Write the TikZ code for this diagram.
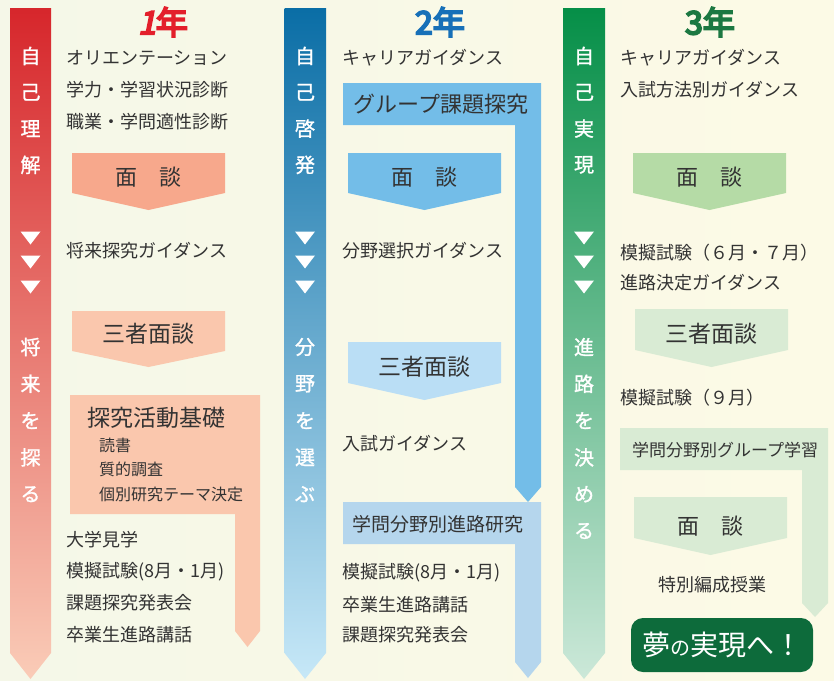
\documentclass[tikz,border=0pt]{standalone}
\usepackage{fontspec}
\setmainfont{Noto Sans CJK JP}
\newfontfamily\yearfont{Noto Sans CJK JP}[FakeBold=6]
\newfontfamily\yearslant{Noto Sans CJK JP}[FakeBold=6, FakeSlant=0.2]
\newfontfamily\vertfont{Noto Sans CJK JP}[FakeBold=1.2]
\usepackage{tikz}
\usetikzlibrary{positioning}
\definecolor{bgleft}{rgb}{0.96,0.97,0.91}
\definecolor{bgright}{rgb}{0.99,0.98,0.90}
\definecolor{textgray}{rgb}{0.2,0.2,0.2}
\definecolor{redtop}{rgb}{0.84,0.15,0.17}
\definecolor{redmid}{rgb}{0.89,0.47,0.35}
\definecolor{redbot}{rgb}{0.98,0.80,0.72}
\definecolor{redbox}{rgb}{0.97,0.66,0.55}
\definecolor{redpale}{rgb}{0.98,0.78,0.68}
\definecolor{bluetop}{rgb}{0.04,0.43,0.65}
\definecolor{bluebot}{rgb}{0.78,0.91,0.97}
\definecolor{bluebox}{rgb}{0.45,0.74,0.91}
\definecolor{bluepale}{rgb}{0.73,0.87,0.96}
\definecolor{bluegrey}{rgb}{0.71,0.84,0.93}
\definecolor{greentop}{rgb}{0.02,0.56,0.28}
\definecolor{greenbot}{rgb}{0.80,0.91,0.85}
\definecolor{greenbox}{rgb}{0.71,0.86,0.65}
\definecolor{greenpale}{rgb}{0.85,0.92,0.83}
\definecolor{yumegreen}{rgb}{0.05,0.42,0.23}
\definecolor{yearred}{rgb}{0.89,0.12,0.17}
\definecolor{yearblue}{rgb}{0.09,0.44,0.72}
\definecolor{yeargreen}{rgb}{0.11,0.47,0.26}

\begin{document}
\begin{tikzpicture}[x=1pt, y=-1pt,
    item/.style={anchor=west, inner sep=0pt, text=textgray, font=\fontsize{18}{18}\selectfont},
    subitem/.style={anchor=west, inner sep=0pt, text=textgray, font=\fontsize{16}{16}\selectfont},
    vchar/.style={inner sep=0pt, text=white, font=\fontsize{20}{20}\selectfont\vertfont},
    boxtext/.style={inner sep=0pt, text=textgray, font=\fontsize{22}{22}\selectfont},
    year/.style={inner sep=0pt, font=\fontsize{32}{32}\selectfont\yearfont}
]
\useasboundingbox (0,0) rectangle (834,680);
\shade[left color=bgleft, right color=bgright] (0,0) rectangle (834,680);

% long arrows
\shade[top color=redtop, middle color=redmid, bottom color=redbot] (10,8) -- (51,8) -- (51,653) -- (30.5,679) -- (10,653) -- cycle;
\shade[top color=bluetop, bottom color=bluebot] (284.5,8) -- (326,8) -- (326,653) -- (305,679) -- (284.5,653) -- cycle;
\shade[top color=greentop, bottom color=greenbot] (563,8) -- (605,8) -- (605,653) -- (584,679) -- (563,653) -- cycle;

\foreach \cx in {30.5,305,584}
  \foreach \ty in {238,262,287}
    \fill[white] (\cx-10,\ty-6.5) -- (\cx+10,\ty-6.5) -- (\cx,\ty+6.5) -- cycle;

\foreach \ch [count=\i from 0] in {自,己,理,解}
  \node[vchar] (a\i) at (30.5,{56+36.3*\i}) {\ch};
\foreach \ch [count=\i from 0] in {将,来,を,探,る}
  \node[vchar] (b\i) at (30.5,{347+36.8*\i}) {\ch};
\foreach \ch [count=\i from 0] in {自,己,啓,発}
  \node[vchar] (c\i) at (305,{56+36.3*\i}) {\ch};
\foreach \ch [count=\i from 0] in {分,野,を,選,ぶ}
  \node[vchar] (d\i) at (305,{347+36.8*\i}) {\ch};
\foreach \ch [count=\i from 0] in {自,己,実,現}
  \node[vchar] (e\i) at (584,{56+36.3*\i}) {\ch};
\foreach \ch [count=\i from 0] in {進,路,を,決,め,る}
  \node[vchar] (f\i) at (584,{347+36.8*\i}) {\ch};

% 1st year
\node[year, text=yearred] (year1) at (163,22) {{\yearslant 1}年};
\node[item] (orient) at (66,58) {オリエンテーション};
\node[item] (gakuryoku) at (66,90) {学力・学習状況診断};
\node[item] (shokugyo) at (66,122) {職業・学問適性診断};
\fill[redbox] (72,153) -- (225,153) -- (225,193) -- (148.5,210) -- (72,193) -- cycle;
\node[boxtext] (mendan1) at (148.5,177.5) {面　談};
\node[item] (shorai) at (66,251) {将来探究ガイダンス};
\fill[redpale] (72,311) -- (225,311) -- (225,351) -- (148.5,367) -- (72,351) -- cycle;
\node[boxtext, font=\fontsize{23}{23}\selectfont] (sansha1) at (148.5,334) {三者面談};
\fill[redpale] (70,395) -- (260,395) -- (260,631) -- (247.5,647) -- (235,631) -- (235,514) -- (70,514) -- cycle;
\node[boxtext, anchor=west, font=\fontsize{23}{23}\selectfont] (kiso) at (87,418) {探究活動基礎};
\node[subitem] (dokusho) at (99,445) {読書};
\node[subitem] (shitsuteki) at (99,469) {質的調査};
\node[subitem] (kobetsu) at (99,494) {個別研究テーマ決定};
\node[item] (kengaku) at (66,540) {大学見学};
\node[item] (moshi1) at (66,572) {模擬試験(8月・1月)};
\node[item] (happyo1) at (66,603) {課題探究発表会};
\node[item] (kowa1) at (66,635) {卒業生進路講話};

% 2nd year
\node[year, text=yearblue] (year2) at (440,22) {2年};
\node[item] (career2) at (342,58) {キャリアガイダンス};
\fill[bluebox] (343,83) -- (541,83) -- (541,487) -- (528,502) -- (515,487) -- (515,125) -- (343,125) -- cycle;
\node[boxtext] (group) at (441,104) {グループ課題探究};
\fill[bluebox] (348,153) -- (501,153) -- (501,193) -- (424.5,210) -- (348,193) -- cycle;
\node[boxtext] (mendan2) at (424.5,177.5) {面　談};
\node[item] (bunya) at (342,251) {分野選択ガイダンス};
\fill[bluepale] (348,342) -- (501,342) -- (501,383) -- (424.5,400) -- (348,383) -- cycle;
\node[boxtext, font=\fontsize{23}{23}\selectfont] (sansha2) at (424.5,367) {三者面談};
\node[item] (nyushi2) at (342,444) {入試ガイダンス};
\fill[bluegrey] (343,502) -- (541,502) -- (541,662) -- (528,678) -- (515,662) -- (515,544) -- (343,544) -- cycle;
\node[boxtext, font=\fontsize{19}{19}\selectfont] (kenkyu) at (438,524) {学問分野別進路研究};
\node[item] (moshi2) at (342,573) {模擬試験(8月・1月)};
\node[item] (kowa2) at (342,605) {卒業生進路講話};
\node[item] (happyo2) at (342,635) {課題探究発表会};

% 3rd year
\node[year, text=yeargreen] (year3) at (710,22) {3年};
\node[item] (career3) at (620,58) {キャリアガイダンス};
\node[item] (hoho) at (620,90) {入試方法別ガイダンス};
\fill[greenbox] (633,153) -- (786,153) -- (786,193) -- (709.5,210) -- (633,193) -- cycle;
\node[boxtext] (mendan3) at (709.5,177.5) {面　談};
\node[item] (moshi3) at (620,253) {模擬試験（６月・７月）};
\node[item] (kettei) at (620,283) {進路決定ガイダンス};
\fill[greenpale] (635,309) -- (788,309) -- (788,350) -- (711.5,367) -- (635,350) -- cycle;
\node[boxtext, font=\fontsize{23}{23}\selectfont] (sansha3) at (711.5,334) {三者面談};
\node[item] (moshi9) at (620,398) {模擬試験（９月）};
\fill[greenpale] (620,428) -- (828,428) -- (828,603) -- (815,617) -- (802,603) -- (802,470) -- (620,470) -- cycle;
\node[boxtext, font=\fontsize{17}{17}\selectfont] (gakushu) at (725,450) {学問分野別グループ学習};
\fill[greenpale] (634,497) -- (787,497) -- (787,538) -- (710.5,555) -- (634,538) -- cycle;
\node[boxtext] (mendan4) at (710.5,526) {面　談};
\node[item, anchor=center] (tokubetsu) at (712,585) {特別編成授業};
\node[fill=yumegreen, rounded corners=12pt, minimum width=182pt, minimum height=54pt, text=white, inner sep=0pt] (yume) at (722,645)
  {{\fontsize{28}{28}\selectfont 夢}{\fontsize{20}{20}\selectfont の}{\fontsize{28}{28}\selectfont 実現へ！}};

\end{tikzpicture}
\end{document}
